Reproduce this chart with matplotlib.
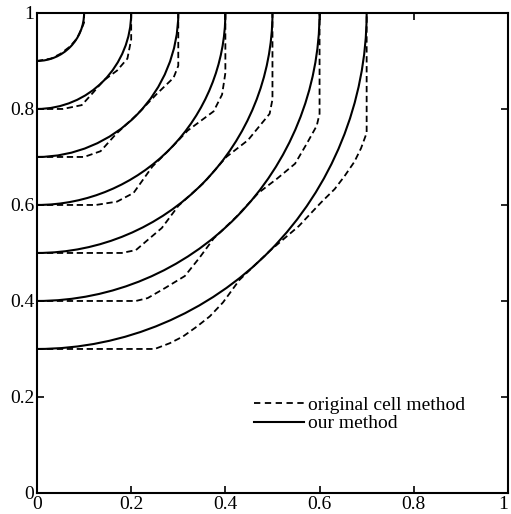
import matplotlib
matplotlib.use("Agg")
from matplotlib import pyplot as plt
from matplotlib import patches as patches
from matplotlib.lines import Line2D

plt.rcParams['font.family'] = ['Liberation Serif', 'DejaVu Serif']

# radii of the exact contours (our method), centred on (0, 1)
radii = [0.1, 0.2, 0.3, 0.4, 0.5, 0.6, 0.7]

# dashed contours from the original cell method
cell_x = [
    [0, 0.03, 0.05, 0.07, 0.085, 0.095, 0.1, 0.1],
    [0, 0.055, 0.095, 0.12, 0.141, 0.17, 0.192, 0.2, 0.2],
    [0, 0.1, 0.135, 0.168, 0.212, 0.255, 0.29, 0.3, 0.3],
    [0, 0.125, 0.17, 0.205, 0.245, 0.283, 0.32, 0.375, 0.393, 0.4, 0.4],
    [0, 0.18, 0.21, 0.235, 0.265, 0.3, 0.354, 0.402, 0.448, 0.473, 0.494, 0.5, 0.5],
    [0, 0.21, 0.235, 0.272, 0.314, 0.345, 0.375, 0.424, 0.47, 0.51, 0.548, 0.573, 0.594, 0.6, 0.6],
    [0, 0.25, 0.282, 0.31, 0.34, 0.367, 0.395, 0.43, 0.495, 0.556, 0.603, 0.632, 0.653, 0.674, 0.688, 0.7, 0.7],
]
cell_y = [
    [0.9, 0.905, 0.915, 0.93, 0.947, 0.968, 0.98, 1.0],
    [0.8, 0.8, 0.808, 0.835, 0.859, 0.88, 0.905, 0.945, 1.0],
    [0.7, 0.7, 0.712, 0.748, 0.788, 0.832, 0.865, 0.89, 1.0],
    [0.6, 0.6, 0.607, 0.625, 0.68, 0.717, 0.755, 0.795, 0.83, 0.875, 1.0],
    [0.5, 0.5, 0.506, 0.527, 0.552, 0.598, 0.646, 0.7, 0.735, 0.765, 0.79, 0.82, 1.0],
    [0.4, 0.4, 0.406, 0.427, 0.452, 0.49, 0.53, 0.576, 0.625, 0.655, 0.686, 0.728, 0.765, 0.79, 1.0],
    [0.3, 0.3, 0.312, 0.326, 0.347, 0.368, 0.397, 0.444, 0.505, 0.556, 0.605, 0.633, 0.66, 0.69, 0.718, 0.75, 1.0],
]

ticks = [0, 0.2, 0.4, 0.6, 0.8, 1]
tick_labels = ['0', '0.2', '0.4', '0.6', '0.8', '1']

fig = plt.figure(figsize=(5.11, 5.14), dpi=100)
ax = fig.add_axes([0.0724, 0.0409, 0.9216, 0.9339])

dash = (0, (3.5, 2.0))
for xs, ys in zip(cell_x, cell_y):
    ax.plot(xs, ys, color='black', linewidth=1.3, linestyle=dash)

for r in radii:
    arc = patches.Arc((0, 1), 2 * r, 2 * r, theta1=270, theta2=360,
                      color='black', linewidth=1.5)
    ax.add_patch(arc)

ax.set_xlim(0, 1)
ax.set_ylim(0, 1)
ax.set_xticks(ticks)
ax.set_xticklabels(tick_labels)
ax.set_yticks(ticks)
ax.set_yticklabels(tick_labels)
ax.tick_params(direction='in', length=5, width=1.2, top=True, right=True,
               labelsize=14, pad=2)
ax.get_xticklabels()[-1].set_horizontalalignment('right')
for s in ax.spines.values():
    s.set_linewidth(1.5)

handles = [Line2D([], [], color='black', linewidth=1.3, linestyle=(0, (3.5, 2.5))),
           Line2D([], [], color='black', linewidth=1.5)]
ax.legend(handles, ['original cell method', 'our method'], loc='upper left',
          bbox_to_anchor=(0.423, 0.238), frameon=False, fontsize=14,
          handlelength=2.6, handletextpad=0.2, labelspacing=0.05)

fig.savefig('out.png', dpi=100)
